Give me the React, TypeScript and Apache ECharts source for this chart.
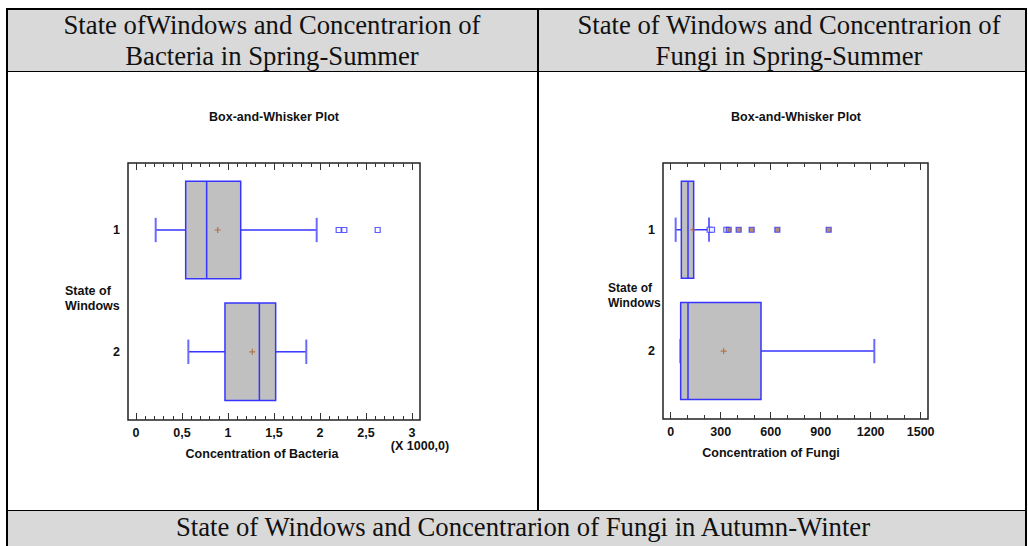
import React, { useEffect, useRef } from "react";
import * as echarts from "echarts";

// ---------- data ----------
const windowStates = [1, 2];

// [lower whisker, Q1, median, Q3, upper whisker]  (x 1000)
const bacteriaBoxes = [
  [0.214, 0.54, 0.768, 1.138, 1.964],
  [0.569, 0.967, 1.341, 1.518, 1.851],
];
const bacteriaMeans = [0.888, 1.264];
const bacteriaOutliers = [2.203, 2.264, 2.627]; // state 1
const bacteriaTickLabels = [0, 0.5, 1, 1.5, 2, 2.5, 3];

const fungiBoxes = [
  [30, 64, 104, 138, 230],
  [58, 60, 104, 542, 1222],
];
const fungiMeans = [135, 318];
const fungiOutliers = [234, 248, 334]; // state 1, outside
const fungiFarOutliers = [348, 408, 486, 640, 948]; // state 1, far outside
const fungiTickLabels = [0, 300, 600, 900, 1200, 1500];

const headerLeft = "State ofWindows and Concentrarion of\nBacteria in Spring-Summer";
const headerRight = "State of Windows and Concentrarion of\nFungi in Spring-Summer";
const footerRow = "State of Windows and Concentrarion of Fungi in Autumn-Winter";

// ---------- style ----------
const BLUE = "#3535ff";
const CAP = "#6a6aff";
const BOX_FILL = "#c0c0c0";
const MEAN = "#b0602a";
const SANS = "'Liberation Sans', Arial, sans-serif";
const SERIF = "'Liberation Serif', 'Times New Roman', serif";
const FS = 12.5;
const HFS = 26.7;

const steps = (from: number, to: number, step: number) => {
  const out: number[] = [];
  const n = Math.round((to - from) / step);
  for (let i = 0; i <= n; i++) out.push(Math.round((from + i * step) * 1000) / 1000);
  return out;
};

function xAxesFor(
  gridIndex: number,
  min: number,
  max: number,
  labels: number[],
  minor: number[],
  fmt: (v: number) => string,
  name: string,
  namePadRight: number
) {
  const base = {
    gridIndex,
    type: "value",
    min,
    max,
    axisLine: { show: false },
    splitLine: { show: false },
  };
  const tickStyle = { color: "#333", width: 1 };
  return [
    {
      ...base,
      position: "bottom",
      axisTick: { show: true, inside: true, length: 7, customValues: labels, lineStyle: tickStyle },
      axisLabel: {
        customValues: labels,
        formatter: (v: number) => fmt(v),
        fontFamily: SANS,
        fontWeight: "bold",
        fontSize: FS,
        color: "#111",
        margin: 6,
      },
      name,
      nameLocation: "middle",
      nameGap: 27,
      nameTextStyle: {
        fontFamily: SANS,
        fontWeight: "bold",
        fontSize: FS,
        color: "#111",
        padding: [0, namePadRight, 0, 0],
      },
    },
    {
      ...base,
      position: "bottom",
      axisTick: { show: true, inside: true, length: 4, customValues: minor, lineStyle: tickStyle },
      axisLabel: { show: false },
    },
    {
      ...base,
      position: "top",
      axisTick: { show: true, inside: true, length: 7, customValues: labels, lineStyle: tickStyle },
      axisLabel: { show: false },
    },
    {
      ...base,
      position: "top",
      axisTick: { show: true, inside: true, length: 4, customValues: minor, lineStyle: tickStyle },
      axisLabel: { show: false },
    },
  ];
}

function yAxisFor(gridIndex: number) {
  return {
    gridIndex,
    type: "value",
    inverse: true,
    min: 0.45,
    max: 2.56,
    axisLine: { show: false },
    axisTick: { show: false },
    splitLine: { show: false },
    axisLabel: {
      customValues: windowStates,
      formatter: (v: number) => String(v),
      fontFamily: SANS,
      fontWeight: "bold",
      fontSize: FS,
      color: "#111",
      margin: 8,
    },
  };
}

const renderBox = (params: any, api: any) => {
  const cat = api.value(0);
  const lo = api.value(1);
  const q1 = api.value(2);
  const med = api.value(3);
  const q3 = api.value(4);
  const hi = api.value(5);
  const px = (v: number) => api.coord([v, cat])[0];
  const cy = api.coord([q1, cat])[1];
  const boxTop = api.coord([q1, cat - 0.4])[1];
  const boxBot = api.coord([q1, cat + 0.4])[1];
  const capTop = api.coord([q1, cat - 0.1])[1];
  const capBot = api.coord([q1, cat + 0.1])[1];
  const line = (x1: number, y1: number, x2: number, y2: number, color = BLUE, w = 1.5) => ({
    type: "line",
    shape: { x1, y1, x2, y2 },
    style: { stroke: color, lineWidth: w },
  });
  return {
    type: "group",
    children: [
      line(px(lo), cy, px(q1), cy),
      line(px(q3), cy, px(hi), cy),
      line(px(lo), capTop, px(lo), capBot, CAP, 2),
      line(px(hi), capTop, px(hi), capBot, CAP, 2),
      {
        type: "rect",
        shape: { x: px(q1), y: boxTop, width: px(q3) - px(q1), height: boxBot - boxTop },
        style: { fill: BOX_FILL, stroke: BLUE, lineWidth: 1.5 },
      },
      line(px(med), boxTop, px(med), boxBot),
    ],
  };
};

const PLUS = "path://M2,0h1v2h2v1h-2v2h-1v-2h-2v-1h2z";

export default function App() {
  const ref = useRef<HTMLDivElement>(null);

  useEffect(() => {
    if (!ref.current) return;
    const chart = echarts.init(ref.current, undefined, { renderer: "svg" });

    const bactFmt = (v: number) => String(v).replace(".", ",");
    const fungiFmt = (v: number) => String(v);

    const option: any = {
      animation: false,
      backgroundColor: "#ffffff",
      grid: [
        { left: 128, top: 163, width: 292, height: 257, show: true, borderColor: "#222", borderWidth: 1.5, backgroundColor: "transparent" },
        { left: 663, top: 163, width: 265, height: 256, show: true, borderColor: "#222", borderWidth: 1.5, backgroundColor: "transparent" },
      ],
      xAxis: [
        ...xAxesFor(0, -0.087, 3.087, bacteriaTickLabels, steps(0, 3, 0.1), bactFmt, "Concentration of Bacteria", 24),
        ...xAxesFor(1, -46, 1544, fungiTickLabels, steps(0, 1500, 100), fungiFmt, "Concentration of Fungi", 49),
      ],
      yAxis: [yAxisFor(0), yAxisFor(1)],
      series: [
        {
          type: "custom",
          xAxisIndex: 0,
          yAxisIndex: 0,
          renderItem: renderBox,
          encode: { x: [1, 2, 3, 4, 5], y: 0 },
          data: bacteriaBoxes.map((b, i) => [windowStates[i], ...b]),
          z: 2,
        },
        {
          type: "scatter",
          xAxisIndex: 0,
          yAxisIndex: 0,
          symbol: "rect",
          symbolSize: 5,
          itemStyle: { color: "#fff", borderColor: BLUE, borderWidth: 1.2 },
          data: bacteriaOutliers.map((v) => [v, windowStates[0]]),
          z: 3,
        },
        {
          type: "scatter",
          xAxisIndex: 0,
          yAxisIndex: 0,
          symbol: PLUS,
          symbolSize: 6,
          itemStyle: { color: MEAN },
          data: bacteriaMeans.map((v, i) => [v, windowStates[i]]),
          z: 4,
        },
        {
          type: "custom",
          xAxisIndex: 4,
          yAxisIndex: 1,
          renderItem: renderBox,
          encode: { x: [1, 2, 3, 4, 5], y: 0 },
          data: fungiBoxes.map((b, i) => [windowStates[i], ...b]),
          z: 2,
        },
        {
          type: "scatter",
          xAxisIndex: 4,
          yAxisIndex: 1,
          symbol: "rect",
          symbolSize: 5,
          itemStyle: { color: "#fff", borderColor: BLUE, borderWidth: 1.2 },
          data: fungiOutliers.map((v) => [v, windowStates[0]]),
          z: 3,
        },
        {
          type: "scatter",
          xAxisIndex: 4,
          yAxisIndex: 1,
          symbol: "rect",
          symbolSize: 5,
          itemStyle: { color: "#a07050", borderColor: BLUE, borderWidth: 1.2 },
          data: fungiFarOutliers.map((v) => [v, windowStates[0]]),
          z: 3,
        },
        {
          type: "scatter",
          xAxisIndex: 4,
          yAxisIndex: 1,
          symbol: PLUS,
          symbolSize: 6,
          itemStyle: { color: MEAN },
          data: fungiMeans.map((v, i) => [v, windowStates[i]]),
          z: 4,
        },
      ],
      graphic: [
        // table cells
        { type: "rect", shape: { x: 8, y: 9, width: 1018, height: 62 }, style: { fill: "#d9d9d9" }, z: -10 },
        { type: "rect", shape: { x: 8, y: 511, width: 1018, height: 36 }, style: { fill: "#d9d9d9" }, z: -10 },
        { type: "line", shape: { x1: 6, y1: 9, x2: 1027, y2: 9 }, style: { stroke: "#000", lineWidth: 2 } },
        { type: "line", shape: { x1: 7, y1: 8, x2: 7, y2: 546 }, style: { stroke: "#000", lineWidth: 2 } },
        { type: "line", shape: { x1: 1026, y1: 8, x2: 1026, y2: 546 }, style: { stroke: "#000", lineWidth: 2 } },
        { type: "line", shape: { x1: 538, y1: 9, x2: 538, y2: 510 }, style: { stroke: "#000", lineWidth: 2 } },
        { type: "line", shape: { x1: 7, y1: 71.5, x2: 1026, y2: 71.5 }, style: { stroke: "#000", lineWidth: 1 } },
        { type: "line", shape: { x1: 7, y1: 510.5, x2: 1026, y2: 510.5 }, style: { stroke: "#000", lineWidth: 1 } },
        // header texts
        {
          type: "text",
          x: 272,
          y: 40,
          style: { text: headerLeft, font: `${HFS}px ${SERIF}`, fill: "#111", textAlign: "center", textVerticalAlign: "middle", lineHeight: 31 },
        },
        {
          type: "text",
          x: 789,
          y: 40,
          style: { text: headerRight, font: `${HFS}px ${SERIF}`, fill: "#111", textAlign: "center", textVerticalAlign: "middle", lineHeight: 31 },
        },
        {
          type: "text",
          x: 523,
          y: 527,
          style: { text: footerRow, font: `${HFS}px ${SERIF}`, fill: "#111", textAlign: "center", textVerticalAlign: "middle" },
        },
        // chart titles
        {
          type: "text",
          x: 274,
          y: 117,
          style: { text: "Box-and-Whisker Plot", font: `bold ${FS}px ${SANS}`, fill: "#111", textAlign: "center", textVerticalAlign: "middle" },
        },
        {
          type: "text",
          x: 796,
          y: 117,
          style: { text: "Box-and-Whisker Plot", font: `bold ${FS}px ${SANS}`, fill: "#111", textAlign: "center", textVerticalAlign: "middle" },
        },
        // y axis titles
        {
          type: "text",
          x: 65,
          y: 298,
          style: { text: "State of\nWindows", font: `bold ${FS}px ${SANS}`, fill: "#111", textAlign: "left", textVerticalAlign: "middle", lineHeight: 15 },
        },
        {
          type: "text",
          x: 608,
          y: 295,
          style: { text: "State of\nWindows", font: `bold 12px ${SANS}`, fill: "#111", textAlign: "left", textVerticalAlign: "middle", lineHeight: 15 },
        },
        // scale note
        {
          type: "text",
          x: 420,
          y: 446,
          style: { text: "(X 1000,0)", font: `bold ${FS}px ${SANS}`, fill: "#111", textAlign: "center", textVerticalAlign: "middle" },
        },
      ],
    };

    chart.setOption(option);
    return () => chart.dispose();
  }, []);

  return <div ref={ref} style={{ position: "absolute", left: 0, top: 0, width: 1028, height: 546 }} />;
}
